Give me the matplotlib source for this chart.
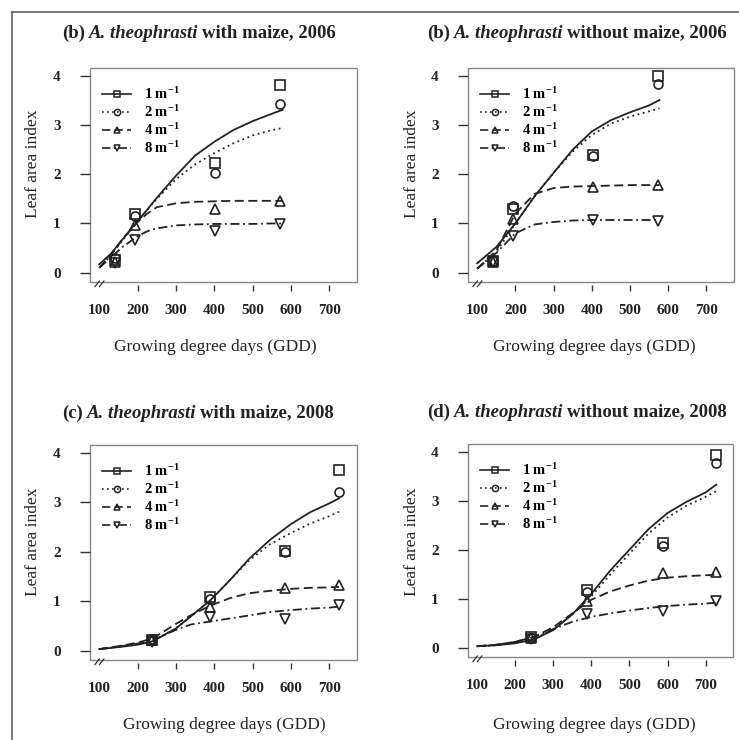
import matplotlib
matplotlib.use('Agg')
import matplotlib.pyplot as plt
from matplotlib.lines import Line2D
from matplotlib.patches import Rectangle
from matplotlib.offsetbox import TextArea, HPacker, AnchoredOffsetbox

plt.rcParams['font.family'] = ['Liberation Serif', 'DejaVu Serif']
plt.rcParams['mathtext.fontset'] = 'custom'
plt.rcParams['mathtext.rm'] = 'Liberation Serif:bold'
plt.rcParams['mathtext.default'] = 'rm'

####################### DATA #########################
DENSITIES = ['1 m$^{-1}$', '2 m$^{-1}$', '4 m$^{-1}$', '8 m$^{-1}$']
XTICKS = [100, 200, 300, 400, 500, 600, 700]
YTICKS = [0, 1, 2, 3, 4]

# (b) with maize, 2006
a_pt_x = [140, 193, 402, 570]
a_pt_1 = [0.25, 1.20, 2.23, 3.82]
a_pt_2 = [0.30, 1.15, 2.02, 3.43]
a_pt_4 = [0.22, 0.97, 1.30, 1.45]
a_pt_8 = [0.20, 0.67, 0.85, 0.99]
a_cv_x = [100, 130, 160, 200, 225, 250, 300, 350, 400, 450, 500, 550, 578]
a_cv_1 = [0.17, 0.38, 0.67, 1.05, 1.28, 1.52, 1.97, 2.38, 2.66, 2.90, 3.08, 3.23, 3.31]
a_cv_2 = [0.10, 0.35, 0.65, 1.03, 1.27, 1.50, 1.90, 2.20, 2.43, 2.63, 2.79, 2.90, 2.94]
a_cv_4 = [0.10, 0.35, 0.67, 1.03, 1.20, 1.33, 1.41, 1.44, 1.45, 1.46, 1.46, 1.46, 1.46]
a_cv_8 = [0.10, 0.30, 0.52, 0.74, 0.84, 0.90, 0.96, 0.98, 0.99, 0.99, 0.99, 1.00, 1.00]

# (b) without maize, 2006
b_pt_x = [141, 195, 403, 572]
b_pt_1 = [0.23, 1.29, 2.40, 4.00]
b_pt_2 = [0.24, 1.36, 2.38, 3.83]
b_pt_4 = [0.22, 1.10, 1.75, 1.78]
b_pt_8 = [0.22, 0.75, 1.08, 1.05]
b_cv_x = [100, 150, 200, 250, 300, 350, 400, 450, 500, 550, 577]
b_cv_1 = [0.19, 0.52, 1.00, 1.55, 2.03, 2.50, 2.87, 3.10, 3.26, 3.40, 3.51]
b_cv_2 = [0.08, 0.42, 1.00, 1.55, 2.03, 2.46, 2.80, 3.03, 3.17, 3.28, 3.34]
b_cv_4 = [0.08, 0.45, 1.20, 1.60, 1.72, 1.75, 1.76, 1.77, 1.78, 1.78, 1.78]
b_cv_8 = [0.08, 0.40, 0.80, 0.98, 1.03, 1.06, 1.07, 1.07, 1.07, 1.07, 1.07]

# (c) with maize, 2008
c_pt_x = [238, 388, 585, 724]
c_pt_1 = [0.22, 1.09, 2.02, 3.65]
c_pt_2 = [0.24, 1.05, 1.99, 3.20]
c_pt_4 = [0.22, 0.89, 1.27, 1.33]
c_pt_8 = [0.18, 0.67, 0.63, 0.92]
c_cv_x = [100, 150, 200, 240, 300, 340, 390, 440, 490, 545, 600, 650, 700, 725]
c_cv_1 = [0.03, 0.07, 0.12, 0.19, 0.45, 0.70, 1.02, 1.42, 1.85, 2.24, 2.56, 2.80, 2.98, 3.08]
c_cv_2 = [0.03, 0.08, 0.14, 0.20, 0.45, 0.70, 1.02, 1.42, 1.82, 2.15, 2.38, 2.57, 2.72, 2.81]
c_cv_4 = [0.03, 0.09, 0.16, 0.25, 0.54, 0.72, 0.91, 1.06, 1.16, 1.21, 1.25, 1.27, 1.28, 1.29]
c_cv_8 = [0.03, 0.08, 0.14, 0.21, 0.42, 0.53, 0.59, 0.65, 0.71, 0.78, 0.82, 0.85, 0.87, 0.89]

# (d) without maize, 2008
d_pt_x = [241, 389, 587, 728]
d_pt_1 = [0.22, 1.18, 2.13, 3.94]
d_pt_2 = [0.20, 1.13, 2.07, 3.78]
d_pt_4 = [0.20, 0.95, 1.52, 1.55]
d_pt_8 = [0.18, 0.69, 0.74, 0.96]
d_cv_x = [100, 150, 200, 250, 300, 350, 400, 450, 500, 550, 600, 650, 700, 728]
d_cv_1 = [0.03, 0.05, 0.09, 0.17, 0.36, 0.68, 1.10, 1.58, 2.00, 2.42, 2.75, 2.98, 3.17, 3.33]
d_cv_2 = [0.03, 0.05, 0.10, 0.18, 0.38, 0.68, 1.05, 1.50, 1.92, 2.33, 2.66, 2.90, 3.08, 3.20]
d_cv_4 = [0.03, 0.06, 0.12, 0.22, 0.42, 0.70, 0.98, 1.15, 1.27, 1.37, 1.43, 1.46, 1.48, 1.49]
d_cv_8 = [0.03, 0.06, 0.12, 0.22, 0.38, 0.53, 0.63, 0.70, 0.76, 0.81, 0.85, 0.88, 0.90, 0.92]

TITLES = [('(b)', 'A. theophrasti', 'with maize, 2006'),
          ('(b)', 'A. theophrasti', 'without maize, 2006'),
          ('(c)', 'A. theophrasti', 'with maize, 2008'),
          ('(d)', 'A. theophrasti', 'without maize, 2008')]
##################### END DATA #######################

W, H = 739, 740
INK = '#222222'
STYLES = [('-', 's'), ((0, (1, 2)), 'o'), ((0, (5, 2.5)), '^'), ((0, (5, 2, 1, 2)), 'v')]

# panel layout in pixels: box (left, top, right, bottom), title centre, xlabel centre, ylabel centre
LAYOUT = [
    ((90, 68, 357, 282), (199, 33), (215, 347), (33, 164)),
    ((468, 68, 734, 282), (577, 33), (594, 347), (412, 164)),
    ((90, 445, 357, 660), (198, 413), (224, 725), (33, 542)),
    ((468, 444, 733, 657), (577, 412), (594, 725), (412, 542)),
]

panels = [
    (a_pt_x, [a_pt_1, a_pt_2, a_pt_4, a_pt_8], a_cv_x, [a_cv_1, a_cv_2, a_cv_4, a_cv_8]),
    (b_pt_x, [b_pt_1, b_pt_2, b_pt_4, b_pt_8], b_cv_x, [b_cv_1, b_cv_2, b_cv_4, b_cv_8]),
    (c_pt_x, [c_pt_1, c_pt_2, c_pt_4, c_pt_8], c_cv_x, [c_cv_1, c_cv_2, c_cv_4, c_cv_8]),
    (d_pt_x, [d_pt_1, d_pt_2, d_pt_4, d_pt_8], d_cv_x, [d_cv_1, d_cv_2, d_cv_4, d_cv_8]),
]

fig = plt.figure(figsize=(W / 100, H / 100), dpi=100)

# outer frame (left and top edges only visible)
fig.add_artist(Line2D([11.5 / W, 11.5 / W], [0, 1 - 12 / H], transform=fig.transFigure, color='#555555', lw=1.1))
fig.add_artist(Line2D([11.5 / W, 1], [1 - 12 / H, 1 - 12 / H], transform=fig.transFigure, color='#555555', lw=1.1))


def fx(px):
    return px / W


def fy(py):
    return 1 - py / H


for i, (pt_x, pt_ys, cv_x, cv_ys) in enumerate(panels):
    (l, t, r, b), tc, xc, yc = LAYOUT[i]
    ax = fig.add_axes([fx(l), fy(b), (r - l) / W, (b - t) / H])
    ax.set_xlim(76, 772)
    ax.set_ylim(-0.19, 4.16)

    for (ls, mk), cy in zip(STYLES, cv_ys):
        ax.plot(cv_x, cy, linestyle=ls, color=INK, lw=1.3)
    for (ls, mk), py in zip(STYLES, pt_ys):
        ax.plot(pt_x, py, linestyle='none', marker=mk, ms=6.5, mfc='none', mec=INK, mew=1.2)

    # box and axes
    for s in ax.spines.values():
        s.set_visible(False)
    ax.spines['bottom'].set_position(('outward', 2.5))
    ax.add_patch(Rectangle((0, 0), 1, 1, transform=ax.transAxes, fill=False,
                           ec='#888888', lw=1.0, clip_on=False))
    ax.set_xticks(XTICKS)
    ax.set_yticks(YTICKS)
    ax.tick_params(axis='x', length=4.3, width=1.0, color='#333333', pad=9,
                   labelsize=11)
    ax.tick_params(axis='y', length=7.2, width=1.0, color='#333333', pad=14,
                   labelsize=11)
    for lab in ax.get_xticklabels() + ax.get_yticklabels():
        lab.set_fontweight('bold')
        lab.set_color('#222222')
    ax.xaxis.get_major_ticks()[0].tick1line.set_visible(False)

    # axis break marks at 100
    bx = (100 - 76) / (772 - 76)
    w, h = r - l, b - t
    for off in (-2.0, 2.5):
        cx = bx + off / w
        ax.plot([cx - 2.2 / w, cx + 2.2 / w], [-4.5 / h, 1.0 / h], transform=ax.transAxes,
                color='#333333', lw=0.9, clip_on=False)

    # legend
    handles = [Line2D([], [], linestyle=ls, color=INK, lw=1.2, marker=mk, ms=4.5,
                      mfc='none', mec=INK, mew=1.1) for ls, mk in STYLES]
    ax.legend(handles, DENSITIES, loc='upper left', bbox_to_anchor=(12 / w, 1 - 18 / h),
              frameon=False, handlelength=2.0, handletextpad=0.9, labelspacing=0.15,
              borderpad=0, borderaxespad=0,
              prop=dict(family='Liberation Serif', weight='bold', size=10.5))

    # labels
    fig.text(fx(xc[0]), fy(xc[1]), 'Growing degree days (GDD)', ha='center', va='center',
             fontsize=12.5, color='#222222')
    fig.text(fx(yc[0]), fy(yc[1]), 'Leaf area index', ha='center', va='center',
             rotation=90, fontsize=12.5, color='#222222')

    # title with mixed styles
    p1, p2, p3 = TITLES[i]
    parts = [TextArea(p1, textprops=dict(fontweight='bold', fontsize=13.5, color='#222222')),
             TextArea(p2, textprops=dict(fontweight='bold', fontstyle='italic', fontsize=13.5, color='#222222')),
             TextArea(p3, textprops=dict(fontweight='bold', fontsize=13.5, color='#222222'))]
    packed = HPacker(children=parts, align='baseline', pad=0, sep=2.5)
    anch = AnchoredOffsetbox(loc='center', child=packed, pad=0, borderpad=0, frameon=False,
                             bbox_to_anchor=(fx(tc[0]), fy(tc[1])), bbox_transform=fig.transFigure)
    fig.add_artist(anch)

plt.savefig('out.png', dpi=100)
